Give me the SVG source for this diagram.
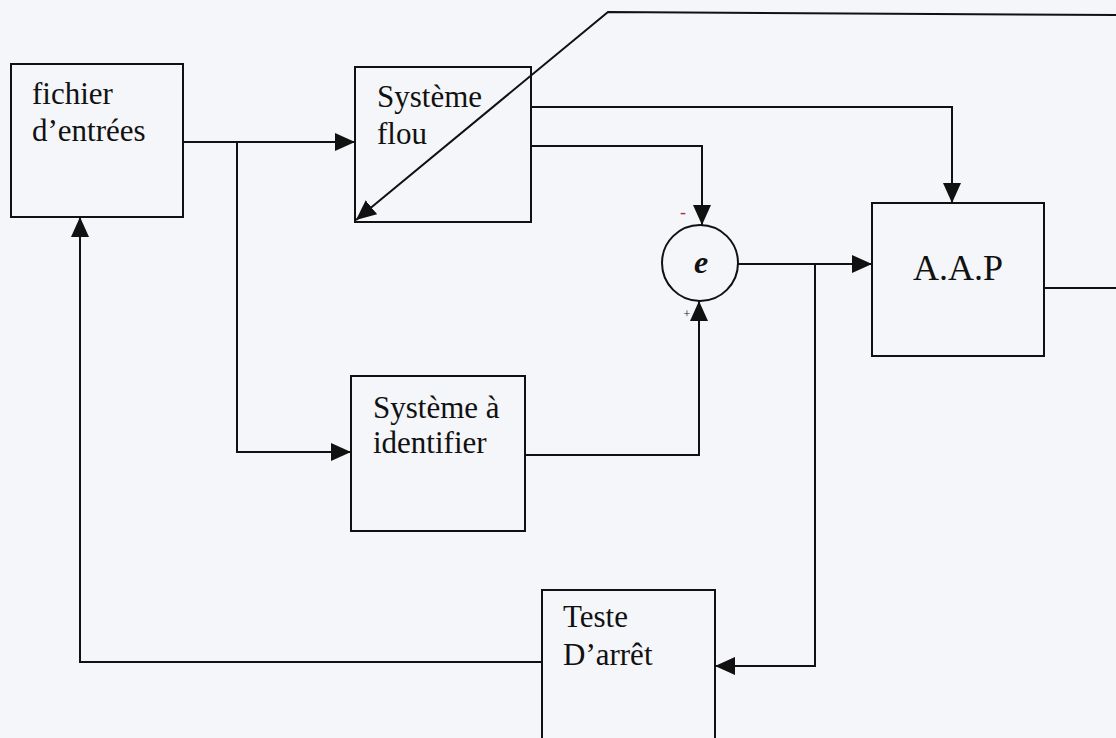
<svg xmlns="http://www.w3.org/2000/svg" width="1116" height="738" viewBox="0 0 1116 738">
<style>
.box{fill:none;stroke:#111;stroke-width:2}
.ln{fill:none;stroke:#111;stroke-width:2}
.t{font-family:"Liberation Serif",serif;font-size:31px;fill:#111}
</style>
<defs>
<marker id="ah" viewBox="0 0 20 20" refX="20" refY="10" markerWidth="20" markerHeight="20" markerUnits="userSpaceOnUse" orient="auto">
<path d="M0,1 L20,10 L0,19 z" fill="#111"/>
</marker>
</defs>
<rect width="1116" height="738" fill="#f5f6f9"/>
<g id="fichier">
<rect class="box" x="11" y="64" width="172" height="153"/>
<text class="t" x="32" y="104">fichier</text>
<text class="t" x="32" y="141">d’entrées</text>
</g>
<g id="flou">
<rect class="box" x="355" y="67" width="176" height="155"/>
<text class="t" x="377" y="107">Système</text>
<text class="t" x="377" y="144">flou</text>
</g>
<g id="identifier">
<rect class="box" x="351" y="376" width="174" height="155"/>
<text class="t" x="373" y="418">Système à</text>
<text class="t" x="373" y="453">identifier</text>
</g>
<g id="aap">
<rect class="box" x="872" y="203" width="172" height="153"/>
<text class="t" x="958" y="280" text-anchor="middle" style="font-size:36px">A.A.P</text>
</g>
<g id="teste">
<path class="box" d="M542,740 L542,590 L715,590 L715,740"/>
<text class="t" x="563" y="627">Teste</text>
<text class="t" x="563" y="665">D’arrêt</text>
</g>
<g id="sum">
<circle cx="700" cy="263" r="38" fill="none" stroke="#111" stroke-width="2"/>
<text x="701" y="273" text-anchor="middle" style="font-family:'Liberation Serif',serif;font-size:32px;font-style:italic;font-weight:bold;fill:#111">e</text>
<text x="683" y="218" text-anchor="middle" style="font-family:'Liberation Serif',serif;font-size:18px;fill:#a33">-</text>
<text x="687" y="318" text-anchor="middle" style="font-family:'Liberation Serif',serif;font-size:12px;fill:#111">+</text>
</g>
<g id="connectors">
<path class="ln" d="M183,142 L355,142" marker-end="url(#ah)"/>
<path class="ln" d="M237,142 L237,452 L351,452" marker-end="url(#ah)"/>
<path class="ln" d="M531,107 L952,107 L952,203" marker-end="url(#ah)"/>
<path class="ln" d="M531,146 L702,146 L702,225" marker-end="url(#ah)"/>
<path class="ln" d="M525,455 L699,455 L699,301" marker-end="url(#ah)"/>
<path class="ln" d="M738,264 L872,264" marker-end="url(#ah)"/>
<path class="ln" d="M815,264 L815,666 L715,666" marker-end="url(#ah)"/>
<path class="ln" d="M542,662 L80,662 L80,217" marker-end="url(#ah)"/>
<path class="ln" d="M1044,288 L1116,288"/>
<path class="ln" d="M1116,15 L608,12 L356,220" marker-end="url(#ah)"/>
</g>
</svg>
